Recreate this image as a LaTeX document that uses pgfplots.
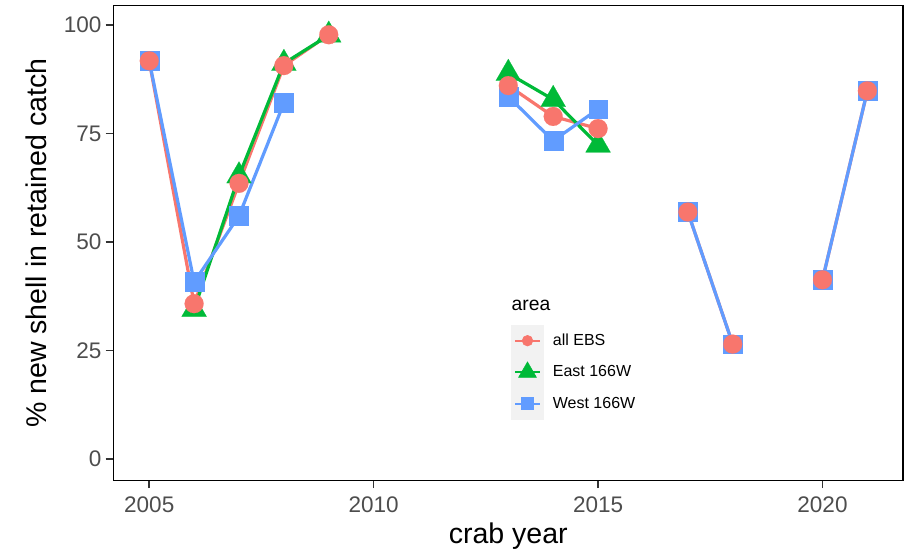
\documentclass[border=0pt]{standalone}
\usepackage{pgfplots}
\pgfplotsset{compat=1.18}
\usepackage{pgfplotstable}
\usepackage{fontspec}
\setmainfont{Liberation Sans}
\definecolor{cR}{HTML}{F8766D}
\definecolor{cG}{HTML}{00BA38}
\definecolor{cB}{HTML}{619CFF}
\definecolor{legbg}{HTML}{F2F2F2}
\definecolor{tickgray}{HTML}{4D4D4D}
\definecolor{tickdark}{HTML}{333333}

\pgfplotstableread{
year all east west
2005 91.7 nan 91.7
2006 35.8 34.5 40.8
2007 63.5 65.2 56.0
2008 90.6 91.1 82.0
2009 97.7 97.6 nan
2010 nan nan nan
2011 nan nan nan
2012 nan nan nan
2013 86.0 88.8 83.5
2014 78.9 82.8 73.3
2015 76.1 72.3 80.6
2016 nan nan nan
2017 56.9 nan 56.9
2018 26.5 nan 26.5
2019 nan nan nan
2020 41.3 nan 41.3
2021 84.8 nan 84.8
}\crabdata

\begin{document}
\begin{tikzpicture}
\useasboundingbox (-85pt,-56.5pt) rectangle (595.3pt,360.5pt);
\begin{axis}[
  at={(0,0)}, anchor=south west,
  scale only axis, width=592.5pt, height=356.25pt,
  xmin=2004.2, xmax=2021.8, ymin=-4.93, ymax=104.4,
  xtick={2005,2010,2015,2020}, ytick={0,25,50,75,100},
  xtick pos=left, ytick pos=left,
  tick align=outside, major tick length=5.7pt,
  tick style={tickdark, line width=1.1pt},
  axis line style={line width=1.2pt, black},
  /pgf/number format/assume math mode=true,
  /pgf/number format/1000 sep={},
  ticklabel style={font=\fontsize{16.9}{20}\selectfont, text=tickgray},
  xticklabel style={inner sep=0pt, anchor=north, yshift=-6pt},
  yticklabel style={inner sep=0pt, anchor=east, xshift=-3pt},
  unbounded coords=jump,
  xlabel={crab year},
  ylabel={\% new shell in retained catch},
  label style={font=\fontsize{21.4}{25}\selectfont},
  xlabel style={at={(axis description cs:0.5,-0.1333)}, anchor=base},
  ylabel style={at={(axis description cs:-0.0844,0.5)}, anchor=base},
  legend cell align=left,
  legend style={name=leg, at={(axis cs:2013.07,30.9)}, anchor=north west,
    draw=none, fill=none, inner sep=0pt, outer sep=0pt,
    row sep=0pt, column sep=7pt,
    font=\fontsize{12}{14}\selectfont,
    nodes={inner sep=0pt, anchor=west}},
]
% lines
\addplot[forget plot, cR, line width=2.4pt] table[x=year, y=all] {\crabdata};
\addplot[forget plot, cG, line width=2.4pt] table[x=year, y=east] {\crabdata};
\addplot[forget plot, cB, line width=2.4pt] table[x=year, y=west] {\crabdata};
% points
\addplot[forget plot, only marks, cG, mark=triangle*, mark size=10.8pt, mark options={line width=0.1pt}] table[x=year, y=east] {\crabdata};
\addplot[forget plot, only marks, cB, mark=square*, mark size=7.1pt, mark options={line width=0.1pt}] table[x=year, y=west] {\crabdata};
\addplot[forget plot, only marks, cR, mark=*, mark size=7.1pt, mark options={line width=0.1pt}] table[x=year, y=all] {\crabdata};
% legend
\addlegendimage{legend image code/.code={
  \fill[legbg] (0pt,-11.6pt) rectangle (23.7pt,11.6pt);
  \draw[cR, line width=1.5pt] (2.5pt,0pt) -- (21.2pt,0pt);
  \fill[cR] (11.85pt,0pt) circle (4pt);
}}
\addlegendentry{all EBS}
\addlegendimage{legend image code/.code={
  \fill[legbg] (0pt,-11.6pt) rectangle (23.7pt,11.6pt);
  \draw[cG, line width=1.5pt] (2.5pt,0pt) -- (21.2pt,0pt);
  \fill[cG] (11.85pt,7.7pt) -- (18.52pt,-3.85pt) -- (5.18pt,-3.85pt) -- cycle;
}}
\addlegendentry{East 166W}
\addlegendimage{legend image code/.code={
  \fill[legbg] (0pt,-11.6pt) rectangle (23.7pt,11.6pt);
  \draw[cB, line width=1.5pt] (2.5pt,0pt) -- (21.2pt,0pt);
  \fill[cB] (7.25pt,-4.6pt) rectangle (16.45pt,4.6pt);
}}
\addlegendentry{West 166W}
\end{axis}
\node[anchor=base west, inner sep=0pt, font=\fontsize{14.5}{17}\selectfont] at ([yshift=11pt]leg.north west) {area};
\end{tikzpicture}
\end{document}
